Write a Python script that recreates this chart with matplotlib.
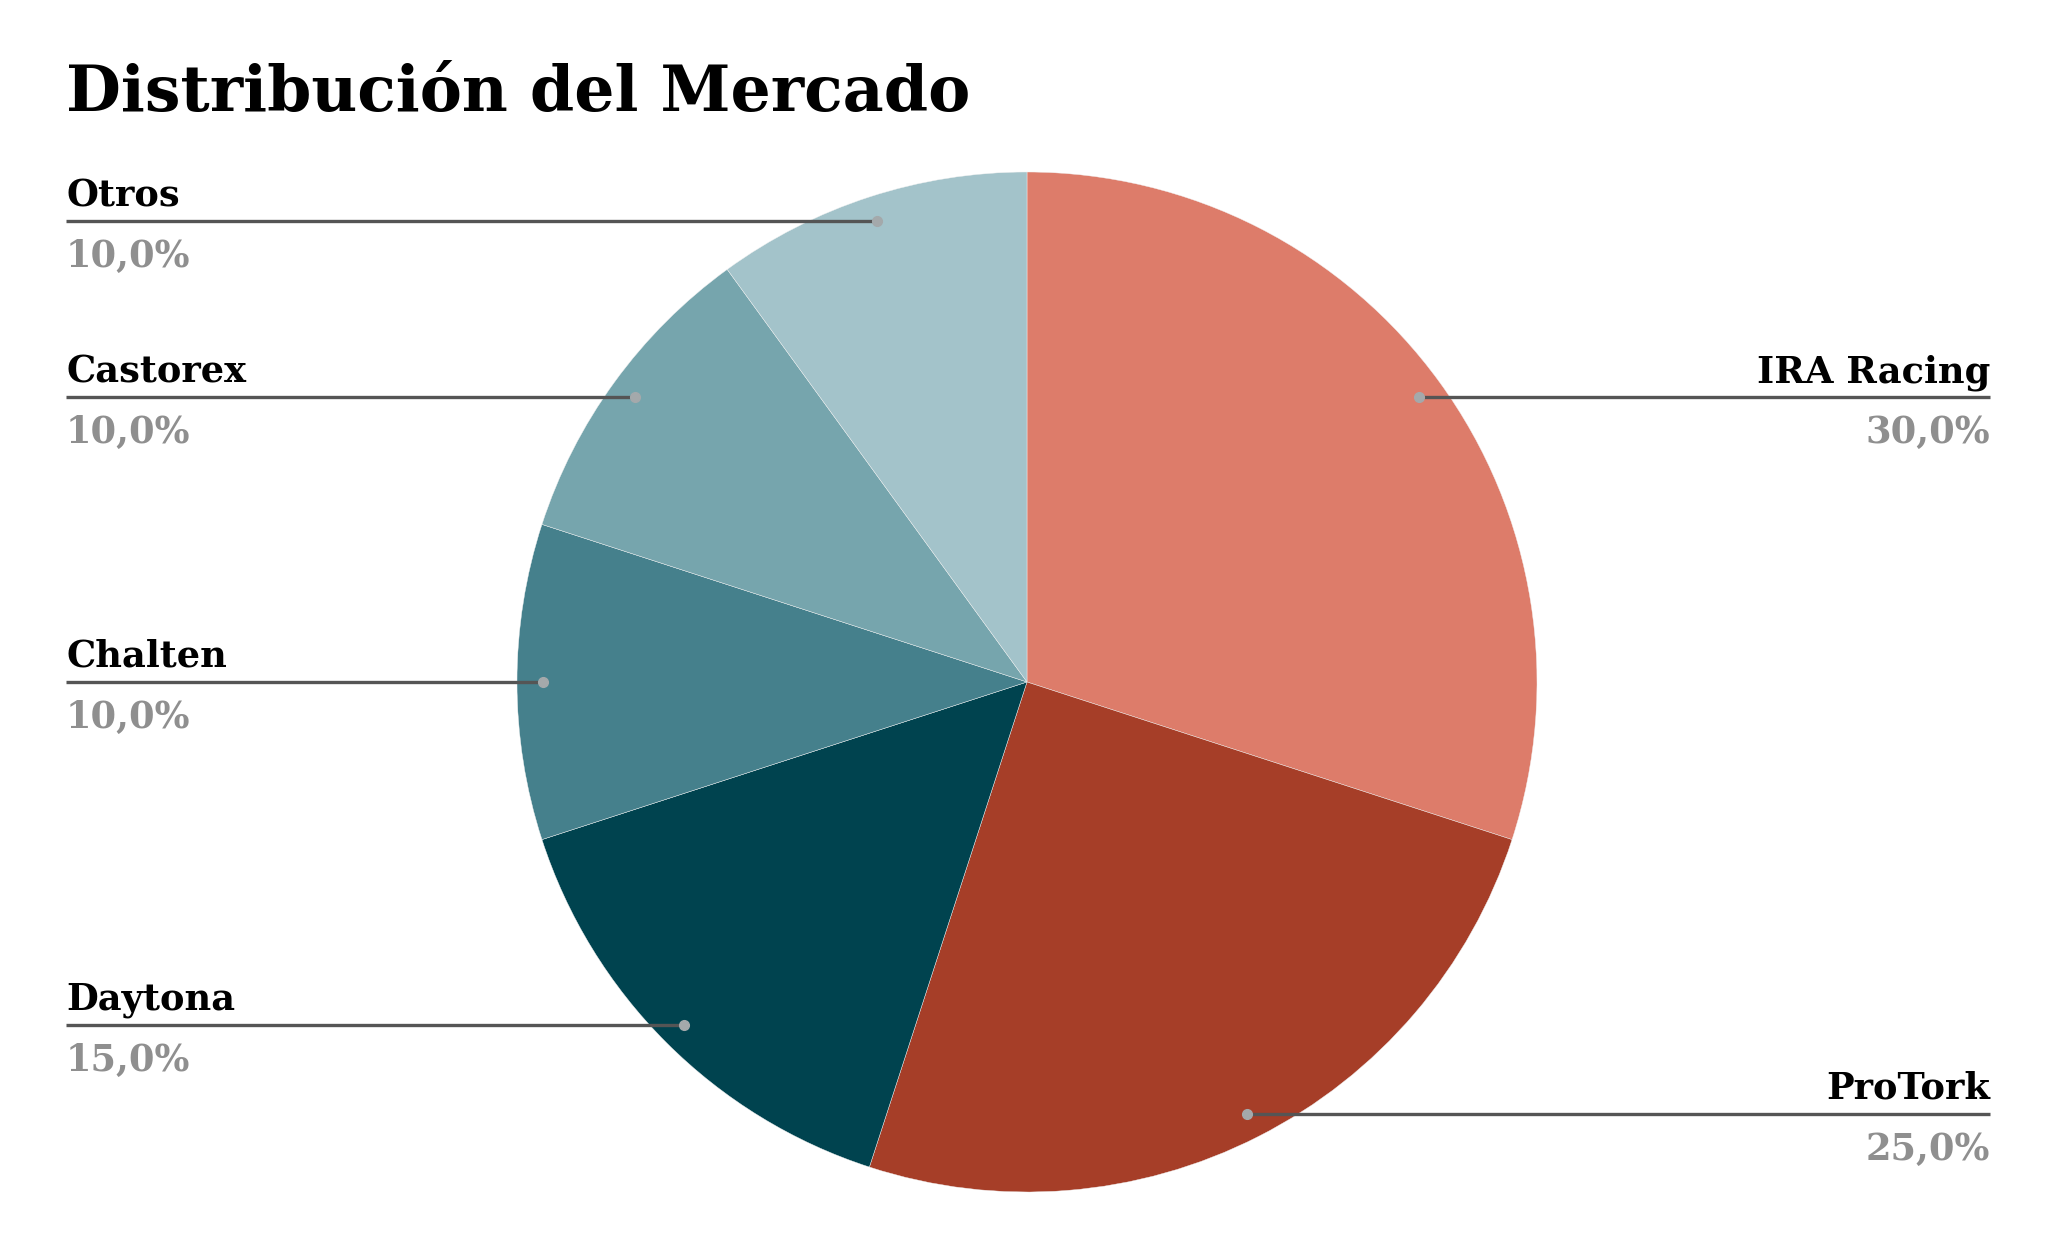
import numpy as np
import matplotlib.pyplot as plt

# Market share data
labels = ['IRA Racing', 'ProTork', 'Daytona', 'Chalten', 'Castorex', 'Otros']
shares = [30.0, 25.0, 15.0, 10.0, 10.0, 10.0]
colors = ['#DD7C6A', '#A63E28', '#00434F', '#45808C', '#76A5AD', '#A3C3CA']

W, H = 2056, 1240
plt.rcParams['font.family'] = ['DejaVu Serif']

fig = plt.figure(figsize=(W / 100, H / 100), dpi=100)
ax = fig.add_axes([0, 0, 1, 1])

cx, cy, r = 1027, H - 682, 510
wedges, _ = ax.pie(shares, colors=colors, startangle=90, counterclock=False,
                   center=(cx, cy), radius=r, frame=True,
                   wedgeprops=dict(edgecolor='#f2f2f2', linewidth=0.3))
ax.set_xlim(0, W)
ax.set_ylim(0, H)
ax.set_aspect('equal')
ax.axis('off')

x_left, x_right = 66, 1990
for w, name, val in zip(wedges, labels, shares):
    mid = np.deg2rad((w.theta1 + w.theta2) / 2)
    dx, dy = 0.95 * r * np.cos(mid), 0.95 * r * np.sin(mid)
    px, py = cx + dx, cy + dy
    txt = f'{val:.1f}%'.replace('.', ',')
    if dx > 0:
        ax.plot([px, x_right], [py, py], color='#555555', lw=2.4, zorder=3,
                solid_capstyle='butt')
        tx, ha = x_right, 'right'
    else:
        ax.plot([x_left, px], [py, py], color='#555555', lw=2.4, zorder=3,
                solid_capstyle='butt')
        tx, ha = x_left, 'left'
    ax.plot(px, py, 'o', color='#a4a9ab', ms=7, zorder=4)
    ax.text(tx, py + 15, name, ha=ha, va='baseline', fontsize=26.5,
            fontweight='bold', color='#000000')
    ax.text(tx, py - 18, txt, ha=ha, va='top', fontsize=26.5,
            fontweight='bold', color='#8f8f8f')

ax.text(66, H - 94, 'Distribución del Mercado', ha='left', va='center',
        fontsize=45.5, fontweight='bold', color='#000000')

fig.savefig('out.png', dpi=100, facecolor='white')
